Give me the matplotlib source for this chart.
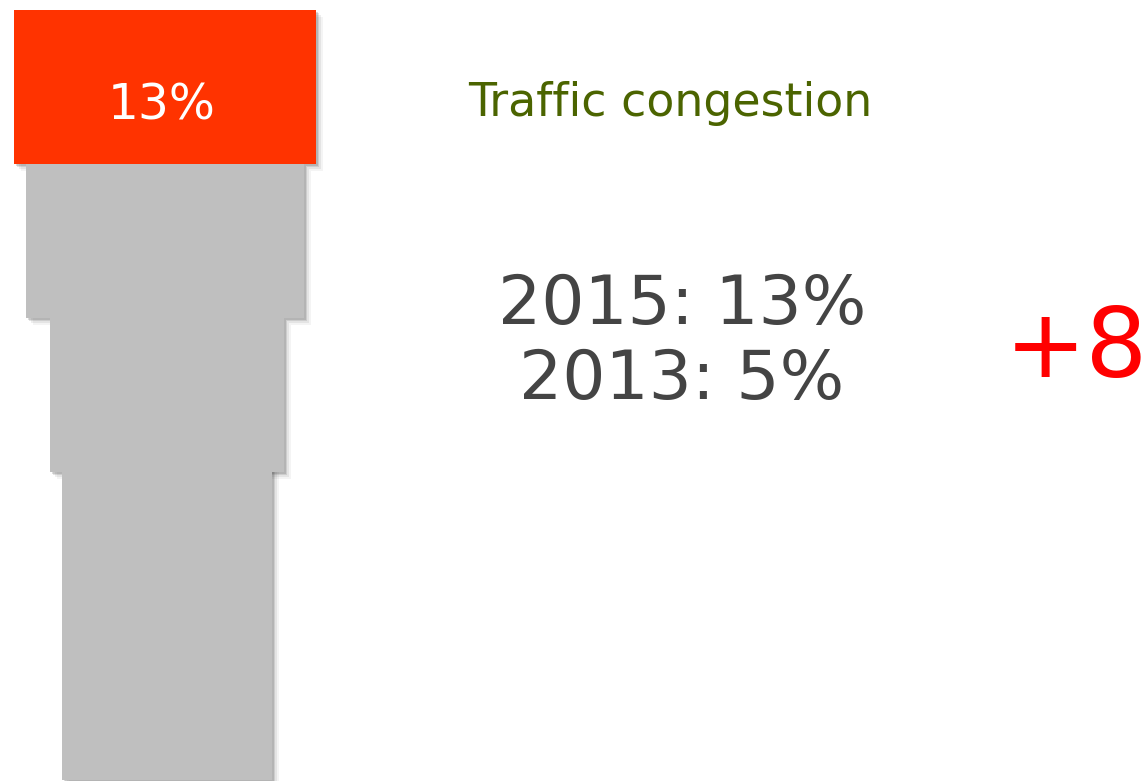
import matplotlib
matplotlib.use("Agg")
import matplotlib.pyplot as plt

# ---- data ----
stage_widths = [302, 278, 234, 210]       # funnel stage widths (px units of the canvas)
stage_centers = [165, 165, 167, 167]
stage_colors = ["#FF3300", "#BFBFBF", "#BFBFBF", "#BFBFBF"]
stage_height = 154
top_value_label = "13%"
category = "Traffic congestion"
year_lines = ["2015: 13%", "2013: 5%"]
change_label = "+8"

W, H = 1146, 781
fig = plt.figure(figsize=(W / 100, H / 100), dpi=100)
ax = fig.add_axes([0, 0, 1, 1])
ax.set_xlim(0, W)
ax.set_ylim(H, 0)
ax.axis("off")

y_centers = [10 + stage_height * (i + 0.5) for i in range(len(stage_widths))]
lefts = [c - w / 2 for c, w in zip(stage_centers, stage_widths)]
heights = [stage_height] * len(stage_widths)
heights[-1] = stage_height * 3  # last stage runs off the canvas

# soft shadows
for off, a in [(7, 0.06), (5, 0.09), (3, 0.14), (1.5, 0.18)]:
    ax.barh([y + off for y in y_centers], stage_widths, height=heights,
            left=[l + off for l in lefts], color="#444444", alpha=a, linewidth=0, zorder=1)
# draw bottom to top so upper stages cover lower shadows
for i in reversed(range(len(stage_widths))):
    ax.barh(y_centers[i], stage_widths[i], height=heights[i], left=lefts[i],
            color=stage_colors[i], linewidth=0, zorder=2 + (len(stage_widths) - i))

ax.text(stage_centers[0] - 3, 119, top_value_label, color="white",
        fontsize=35, ha="center", va="baseline", family="DejaVu Sans", zorder=10)

ax.text(468, 116, category, color="#4B6400", fontsize=33, ha="left", va="baseline",
        family="DejaVu Sans")

ax.text(682, 324, year_lines[0], color="#444444", fontsize=49, ha="center", va="baseline",
        family="DejaVu Sans")
ax.text(682, 399, year_lines[1], color="#444444", fontsize=49, ha="center", va="baseline",
        family="DejaVu Sans")

ax.text(1005, 377, change_label, color="#FF0000", fontsize=70, ha="left", va="baseline",
        family="DejaVu Sans")

fig.savefig("out.png", dpi=100)
